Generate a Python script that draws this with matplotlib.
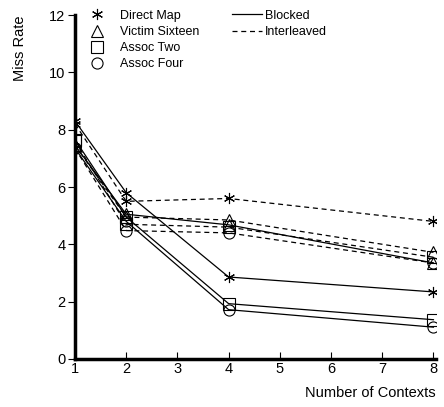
import matplotlib.pyplot as plt
from matplotlib.lines import Line2D

plt.rcParams['font.family'] = ['Liberation Sans', 'DejaVu Sans']

# numero de contextos
contextos = [1, 2, 4, 8]
politicas = ['Direct Map', 'Victim Sixteen', 'Assoc Two', 'Assoc Four']
marcadores = [(6, 2, 0), '^', 's', 'o']

# taxa de falhas, contextos em bloco
blocked = {
    'Direct Map':     [8.30, 5.80, 2.86, 2.34],
    'Victim Sixteen': [7.45, 5.05, 4.68, 3.35],
    'Assoc Two':      [7.65, 4.95, 1.93, 1.37],
    'Assoc Four':     [7.35, 4.80, 1.72, 1.11],
}
# taxa de falhas, contextos intercalados
interleaved = {
    'Direct Map':     [8.20, 5.50, 5.60, 4.80],
    'Victim Sixteen': [7.45, 4.95, 4.85, 3.72],
    'Assoc Two':      [7.60, 4.70, 4.60, 3.55],
    'Assoc Four':     [7.35, 4.48, 4.40, 3.35],
}

fig = plt.figure(figsize=(4.44, 4.07), dpi=100)
ax = fig.add_axes([0.169, 0.118, 0.813, 0.845])

for nome, marc in zip(politicas, marcadores):
    ax.plot(contextos, blocked[nome], color='black', lw=0.9, ls='-',
            marker=marc, markersize=8, mfc='none', mec='black', mew=0.8)
    ax.plot(contextos, interleaved[nome], color='black', lw=0.9, ls=(0, (4, 3)),
            marker=marc, markersize=8, mfc='none', mec='black', mew=0.8)

ax.set_xlim(1, 8.05)
ax.set_ylim(0, 12)
ax.set_xticks(range(1, 9))
ax.set_yticks(range(0, 13, 2))
ax.spines['top'].set_visible(False)
ax.spines['right'].set_visible(False)
ax.spines['left'].set_linewidth(2.5)
ax.spines['bottom'].set_linewidth(2.5)
ax.tick_params(axis='x', direction='in', length=5, width=0.8, labelsize=10.5, pad=2)
ax.tick_params(axis='y', direction='out', length=5, width=0.8, labelsize=10.5, pad=2)

fig.text(0.982, 0.018, 'Number of Contexts', ha='right', va='bottom', fontsize=10.5)
fig.text(0.045, 0.963, 'Miss Rate', rotation=90, ha='center', va='top', fontsize=10.5)

# legendas: politicas e tipo de linha
h_marc = [Line2D([], [], ls='none', marker=m, markersize=8, mfc='none',
                 mec='black', mew=0.8, color='black') for m in marcadores]
leg1 = ax.legend(h_marc, politicas, loc='upper left', bbox_to_anchor=(0.201, 0.976),
                 bbox_transform=fig.transFigure, frameon=False, fontsize=9,
                 handlelength=1.2, handletextpad=1.3, labelspacing=0.33,
                 borderpad=0, borderaxespad=0)
ax.add_artist(leg1)
h_lin = [Line2D([], [], color='black', lw=0.9, ls='-'),
         Line2D([], [], color='black', lw=0.9, ls=(0, (4, 3)))]
ax.legend(h_lin, ['Blocked', 'Interleaved'], loc='upper left', bbox_to_anchor=(0.522, 0.976),
          bbox_transform=fig.transFigure, frameon=False, fontsize=9,
          handlelength=2.4, handletextpad=0.25, labelspacing=0.33,
          borderpad=0, borderaxespad=0)

fig.savefig('out.png', dpi=100)
